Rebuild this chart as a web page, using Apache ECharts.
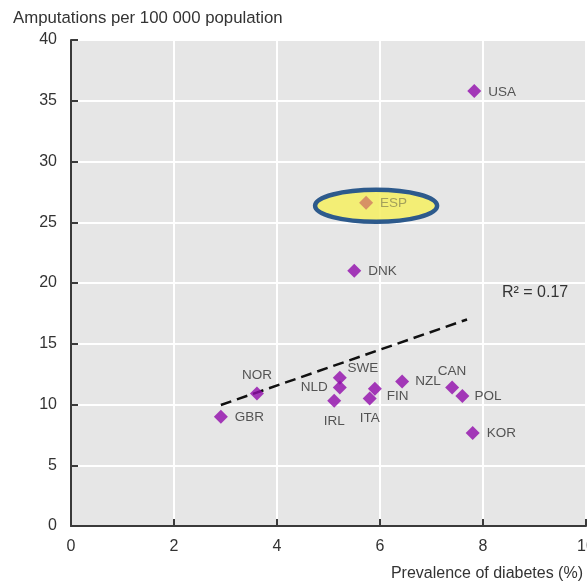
<!DOCTYPE html>
<html>
<head>
<meta charset="utf-8">
<script src="https://cdn.jsdelivr.net/npm/echarts@6/dist/echarts.min.js"></script>
<style>
  html, body { margin: 0; padding: 0; background: #ffffff; }
  #chart { width: 587px; height: 584px; }
</style>
</head>
<body>
<div id="chart"></div>
<script>
// Country codes with diabetes prevalence (%) and lower-extremity amputations per 100 000
const countries = ['USA', 'ESP', 'DNK', 'NOR', 'GBR', 'SWE', 'NLD', 'IRL', 'ITA', 'FIN', 'NZL', 'CAN', 'POL', 'KOR'];
const diabetesPrevalence = [7.83, 5.73, 5.50, 3.61, 2.91, 5.22, 5.22, 5.11, 5.80, 5.90, 6.43, 7.40, 7.60, 7.80];
const amputationRate = [35.8, 26.6, 21.0, 10.9, 9.0, 12.2, 11.4, 10.3, 10.5, 11.3, 11.9, 11.4, 10.7, 7.65];

// Linear fit drawn as a dashed segment
const trendX = [2.91, 7.69];
const trendY = [9.96, 17.0];
const rSquaredText = 'R² = 0.17';

const highlighted = 'ESP';

const xTicks = [0, 2, 4, 6, 8, 10];
const yTicks = [0, 5, 10, 15, 20, 25, 30, 35, 40];

// Where each country's code sits relative to its marker
const labelPlacement = {
  USA: { position: 'right', distance: 7, offset: [0, 1] },
  ESP: { position: 'right', distance: 7, offset: [0, 0] },
  DNK: { position: 'right', distance: 7, offset: [0, 0] },
  NOR: { position: 'top', distance: 4, offset: [0, 0] },
  GBR: { position: 'right', distance: 7, offset: [0, 1] },
  SWE: { position: 'top', distance: 3, offset: [23, 8] },
  NLD: { position: 'left', distance: 5, offset: [0, 0] },
  IRL: { position: 'bottom', distance: 6, offset: [0, 0] },
  ITA: { position: 'bottom', distance: 6, offset: [0, 0] },
  FIN: { position: 'right', distance: 5, offset: [0, 8] },
  NZL: { position: 'right', distance: 6, offset: [0, 0] },
  CAN: { position: 'top', distance: 2, offset: [0, 0] },
  POL: { position: 'right', distance: 5, offset: [0, 0] },
  KOR: { position: 'right', distance: 7, offset: [0, 0] }
};

const FONT = '"Liberation Sans", "Helvetica", Arial, sans-serif';
const PURPLE = '#910bab';
const TEXT = '#333333';

const points = countries.map((c, i) => {
  const lp = labelPlacement[c];
  const isHi = c === highlighted;
  return {
    name: c,
    value: [diabetesPrevalence[i], amputationRate[i]],
    itemStyle: { color: isHi ? '#cf7b62' : PURPLE },
    label: {
      show: true,
      formatter: c,
      position: lp.position,
      distance: lp.distance,
      offset: lp.offset,
      color: isHi ? '#8f8c55' : '#2e2e2e',
      fontFamily: FONT,
      fontSize: 13.5
    }
  };
});

const chart = echarts.init(document.getElementById('chart'), null, { renderer: 'canvas' });

const axisLineStyle = { color: '#3a3a3a', width: 2 };

chart.setOption({
  animation: false,
  backgroundColor: '#ffffff',
  grid: {
    left: 71, top: 40, right: 1, bottom: 58,
    outerBoundsMode: 'none',
    containLabel: false,
    show: true, backgroundColor: '#e6e6e6', borderWidth: 0
  },
  xAxis: {
    type: 'value',
    min: xTicks[0], max: xTicks[xTicks.length - 1], interval: 2,
    name: 'Prevalence of diabetes (%)',
    nameLocation: 'end',
    nameGap: 0,
    nameTextStyle: {
      fontFamily: FONT, fontSize: 16, color: TEXT,
      align: 'right', verticalAlign: 'top', padding: [40, 3, 0, 0]
    },
    axisLine: { show: true, onZero: false, lineStyle: axisLineStyle },
    axisTick: { show: true, inside: true, length: 7, lineStyle: axisLineStyle },
    axisLabel: { fontFamily: FONT, fontSize: 16, color: TEXT, margin: 13, showMaxLabel: true },
    splitLine: { show: true, lineStyle: { color: '#ffffff', width: 2 } }
  },
  yAxis: {
    type: 'value',
    min: yTicks[0], max: yTicks[yTicks.length - 1], interval: 5,
    axisLine: { show: true, onZero: false, lineStyle: axisLineStyle },
    axisTick: { show: true, inside: true, length: 7, lineStyle: axisLineStyle },
    axisLabel: { fontFamily: FONT, fontSize: 16, color: TEXT, margin: 14 },
    splitLine: { show: true, lineStyle: { color: '#ffffff', width: 2 } }
  },
  series: [
    {
      type: 'line',
      data: trendX.map((x, i) => [x, trendY[i]]),
      symbol: 'none',
      lineStyle: { color: '#111111', width: 2.5, type: [11, 6] },
      z: 3,
      silent: true
    },
    {
      type: 'scatter',
      data: points,
      symbol: 'diamond',
      symbolSize: 14,
      z: 4
    }
  ]
});

// Highlight ring around the selected country, centred on its data point
const hiIndex = countries.indexOf(highlighted);
const hiPx = chart.convertToPixel({ gridIndex: 0 }, [diabetesPrevalence[hiIndex], amputationRate[hiIndex]]);
chart.setOption({
  graphic: [
    {
      type: 'text',
      left: 13, top: 10,
      style: { text: 'Amputations per 100 000 population', font: '16.8px ' + FONT, fill: TEXT }
    },
    {
      type: 'text',
      left: 502, top: 285,
      style: { text: rSquaredText, font: '16px ' + FONT, fill: TEXT }
    },
    {
      type: 'ellipse',
      shape: { cx: hiPx[0] + 10, cy: hiPx[1] + 3, rx: 61, ry: 16 },
      style: { fill: 'rgba(244, 238, 96, 0.85)', stroke: '#2d5a8c', lineWidth: 4.5 },
      z: 1
    }
  ]
});
</script>
</body>
</html>
